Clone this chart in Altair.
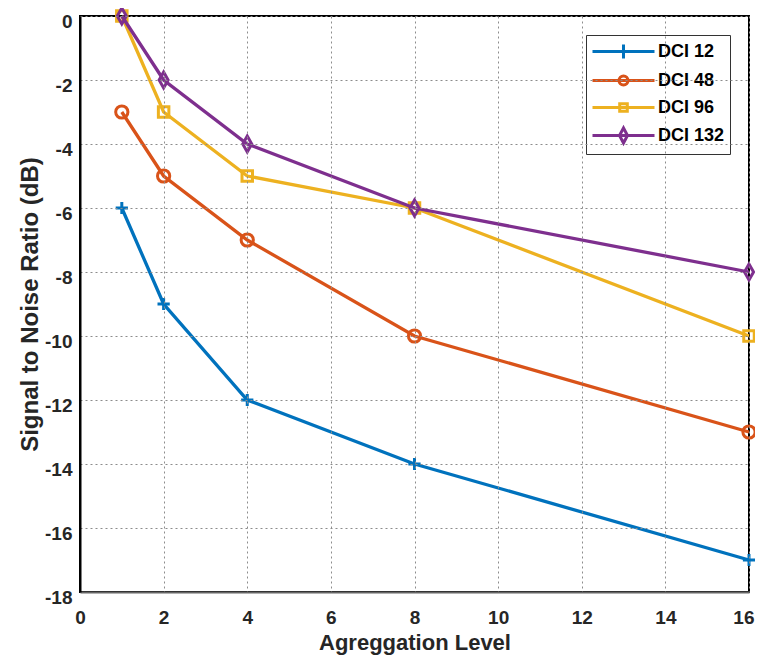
import altair as alt
import pandas as pd

# ---- data ----
levels = [1, 2, 4, 8, 16]
series_names = ["DCI 12", "DCI 48", "DCI 96", "DCI 132"]
snr_dci12 = [-6, -9, -12, -14, -17]
snr_dci48 = [-3, -5, -7, -10, -13]
snr_dci96 = [0, -3, -5, -6, -10]
snr_dci132 = [0, -2, -4, -6, -8]
x_ticks = list(range(0, 17, 2))
y_ticks = list(range(-18, 1, 2))

colors = ["#0072BD", "#D95319", "#EDB120", "#7E2F8E"]

all_values = [snr_dci12, snr_dci48, snr_dci96, snr_dci132]
rows = []
for name, vals in zip(series_names, all_values):
    for lv, v in zip(levels, vals):
        rows.append({"level": lv, "snr": v, "series": name})
df = pd.DataFrame(rows)

FONT = "Liberation Sans"

marker_shapes = [
    "M-1,0H1M0,-1V1",
    "circle",
    "square",
    "M0,-1.6L0.9,0L0,1.6L-0.9,0Z",
]
marker_sizes = [150, 150, 110, 100]

legend_shapes = [
    "M-1,0H5.2M2.1,-0.7V0.7",
    "M-1,0H5.2M2.55,0A0.45,0.45 0 1,1 1.65,0A0.45,0.45 0 1,1 2.55,0",
    "M-1,0H5.2M1.72,-0.38H2.48V0.38H1.72Z",
    "M-1,0H5.2M2.1,-0.75L2.5,0L2.1,0.75L1.7,0Z",
]

xscale = alt.Scale(domain=[0, 16], nice=False)
yscale = alt.Scale(domain=[-18, 0], nice=False)

x_enc = alt.X(
    "level:Q",
    scale=xscale,
    axis=alt.Axis(
        values=x_ticks,
        title="Agreggation Level",
        titleFontSize=22,
        titlePadding=5,
        labelPadding=16,
        labelFlush=False,
        labelAlign={"condition": {"test": "datum.value == 16", "value": "right"}, "value": "center"},
        labelOffset={"condition": {"test": "datum.value == 16", "value": 5}, "value": 0},
        domainColor="#666666",
        domainWidth=2,
        zindex=1,
    ),
)
y_enc = alt.Y(
    "snr:Q",
    scale=yscale,
    axis=alt.Axis(
        values=y_ticks,
        title="Signal to Noise Ratio (dB)",
        titleFontSize=24,
        titlePadding=2,
        labelPadding=8,
        labelOffset=5,
        labelFlush=False,
        labelExpr="'' + datum.value",
        domainColor="#000000",
        domainWidth=2,
        zindex=1,
    ),
)

base = alt.Chart(df)
layers = []
for i, name in enumerate(series_names):
    sub = base.transform_filter(alt.datum.series == name)
    layers.append(
        sub.mark_line(color=colors[i], strokeWidth=3.3).encode(x=x_enc, y=y_enc)
    )
    layers.append(
        sub.mark_point(
            shape=marker_shapes[i],
            size=marker_sizes[i],
            filled=False,
            color=colors[i],
            strokeWidth=3,
            opacity=1,
        ).encode(x=x_enc, y=y_enc)
    )

legend_props = dict(
    title=None,
    orient="none",
    legendX=506,
    legendY=19,
    padding=5,
    rowPadding=4,
    labelOffset=44,
    symbolSize=400,
    symbolStrokeWidth=3,
    symbolOpacity=1,
    labelFontSize=18,
    labelFont=FONT,
    labelFontWeight="bold",
    labelColor="#000000",
    strokeColor="#333333",
    fillColor="white",
)

legend_layer = base.mark_point(opacity=0, filled=False, size=400, strokeWidth=3).encode(
    x=x_enc,
    y=y_enc,
    color=alt.Color(
        "series:N",
        scale=alt.Scale(domain=series_names, range=colors),
        legend=alt.Legend(**legend_props),
    ),
    shape=alt.Shape(
        "series:N",
        scale=alt.Scale(domain=series_names, range=legend_shapes),
        legend=alt.Legend(**legend_props),
    ),
)
layers.append(legend_layer)

chart = (
    alt.layer(*layers)
    .properties(
        width=669,
        height=576,
        background="white",
        autosize=alt.AutoSizeParams(type="none"),
        padding={"left": 72, "top": 8, "right": 6, "bottom": 66},
    )
    .configure_view(stroke="#000000", strokeWidth=2)
    .configure_axis(
        labelFont=FONT,
        labelFontSize=19,
        labelFontWeight="bold",
        labelColor="#262626",
        titleFont=FONT,
        titleFontWeight="bold",
        titleColor="#262626",
        ticks=False,
        grid=True,
        gridColor="#8c8c8c",
        gridDash=[2, 3],
        gridWidth=1,
    )
)

chart.save("out.html", embed_options={"renderer": "svg", "actions": False})
